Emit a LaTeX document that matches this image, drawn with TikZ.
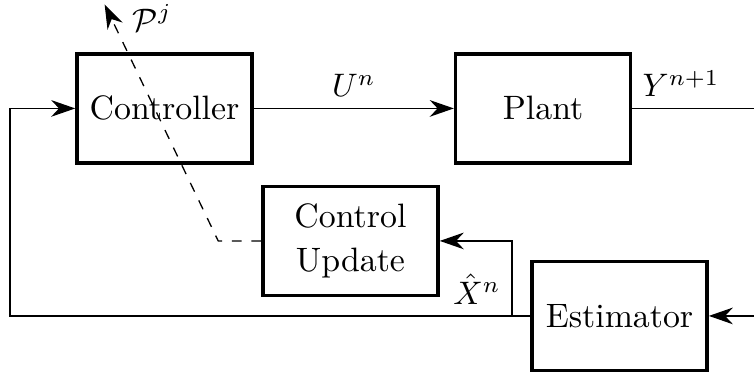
\documentclass[tikz,border=0pt]{standalone}
\usepackage{amsmath}
\usepackage{amssymb}
\usetikzlibrary{positioning, arrows.meta, calc}

\begin{document}
\begin{tikzpicture}[
  font=\fontsize{10.4}{13.5}\selectfont,
  node distance=2.16cm,
  block/.style={rectangle, draw, line width=1.1pt, minimum width=1.89cm, minimum height=1.18cm, align=center},
  arr/.style={-{Stealth[length=2.6mm, width=1.8mm]}}
]
  \useasboundingbox (0,0) rectangle (8.143,4.028);
  \node[block] (ctrl) at (1.777,2.857) {Controller};
  \node[block, right=of ctrl] (plant) {Plant};
  \node[block] (upd) at (3.785,1.426) {Control\\Update};
  \node[block] (est) at (6.691,0.616) {Estimator};
  \coordinate (yout) at (8.143,2.857);
  \coordinate (yin) at (8.143,0.616);
  \coordinate (fb) at (0.108,0.616);
  \coordinate (tap) at (5.53,0.616);
  \coordinate (pj) at (1.13,3.98);
  \draw[arr] (ctrl) to node[above] {$U^n$} (plant);
  \draw (plant.east) to node[above, pos=0.4] {$Y^{n+1}$} (yout);
  \draw[arr] (yin) to (est.east);
  \draw[arr] (est.west) -- (fb) |- (ctrl.west);
  \draw[arr] (tap) |- (upd.east);
  \node[above left] at (tap) {$\hat{X}^n$};
  \draw[arr, dashed] (upd.west) -- ++(-0.464,0) -- (pj) node[below right=-1.2mm and 1.8mm] {$\mathcal{P}^j$};
\end{tikzpicture}
\end{document}
